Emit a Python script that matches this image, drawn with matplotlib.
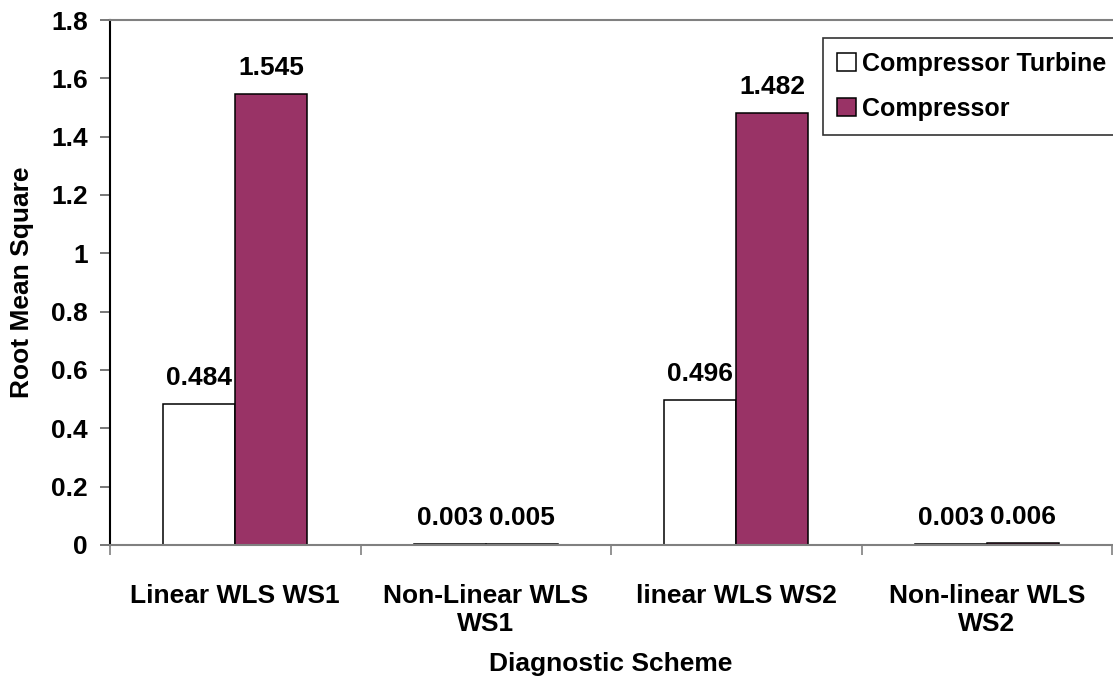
import matplotlib
matplotlib.use("Agg")
import matplotlib.pyplot as plt
import numpy as np

categories = ["Linear WLS WS1", "Non-Linear WLS\nWS1", "linear WLS WS2", "Non-linear WLS\nWS2"]
turbine = [0.484, 0.003, 0.496, 0.003]
compressor = [1.545, 0.005, 1.482, 0.006]
series_names = ["Compressor Turbine", "Compressor"]

FS = 19
plt.rcParams["font.family"] = ["Liberation Sans", "DejaVu Sans"]
plt.rcParams["font.weight"] = "bold"

fig = plt.figure(figsize=(11.13, 6.78), dpi=100)
ax = fig.add_axes([110 / 1113, 1 - 545 / 678, 1002 / 1113, 525 / 678])

x = np.arange(len(categories))
w = 0.287
b1 = ax.bar(x - w / 2, turbine, w, color="white", edgecolor="black", linewidth=1.1,
            label=series_names[0])
b2 = ax.bar(x + w / 2, compressor, w, color="#993366", edgecolor="black", linewidth=1.1,
            label=series_names[1])

# value labels sit a fixed distance above each bar
for bars, vals in ((b1, turbine), (b2, compressor)):
    for rect, v in zip(bars, vals):
        ax.annotate(f"{v:.3f}", (rect.get_x() + rect.get_width() / 2, v),
                    xytext=(0, 10), textcoords="offset points",
                    ha="center", va="bottom", fontsize=FS, fontweight="bold")

ax.set_xlim(-0.5, len(categories) - 0.5)
ax.set_ylim(0, 1.8)
yt = np.arange(0, 1.81, 0.2)
ax.set_yticks(yt, [f"{t:g}" for t in np.round(yt, 1)])
# tick marks between groups, labels centred under each group
ax.set_xticks(np.arange(len(categories) + 1) - 0.5)
ax.set_xticklabels([])
ax.set_xticks(x, categories, minor=True)
ax.tick_params(axis="x", which="minor", length=0, pad=28, labelsize=FS)
ax.tick_params(axis="x", which="major", length=7, width=1.2, color="#808080", direction="out")
ax.tick_params(axis="y", length=7, width=1.2, color="#606060", labelsize=FS, pad=9)
for lbl in ax.get_xticklabels(minor=True) + ax.get_yticklabels():
    lbl.set_fontweight("bold")

ax.spines["right"].set_visible(False)
ax.spines["top"].set_color("#808080")
ax.spines["bottom"].set_color("#808080")
ax.spines["left"].set_color("black")
for s in ("top", "bottom", "left"):
    ax.spines[s].set_linewidth(1.5)

ax.set_ylabel("Root Mean Square", fontsize=FS, fontweight="bold", labelpad=12)
ax.set_xlabel("Diagnostic Scheme", fontsize=FS, fontweight="bold", labelpad=12)

leg = ax.legend(loc="upper left", bbox_to_anchor=(713 / 1002, 1 - 18 / 525),
                fontsize=18, frameon=True, fancybox=False, edgecolor="black",
                handlelength=0.75, handleheight=0.75, handletextpad=0.25,
                labelspacing=0.85, borderpad=0.55, borderaxespad=0)
leg.get_frame().set_linewidth(1.2)
for t in leg.get_texts():
    t.set_fontweight("bold")

fig.savefig("out.png", dpi=100)
